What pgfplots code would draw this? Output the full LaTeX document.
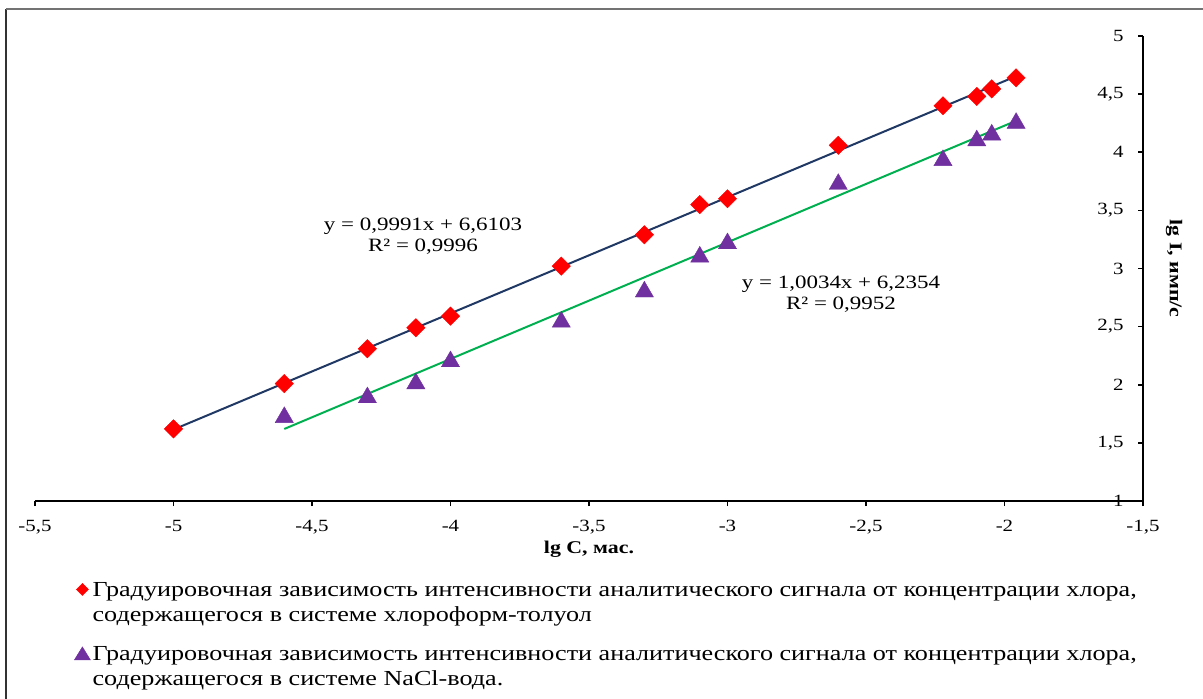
\documentclass[border=0pt]{standalone}
\usepackage{fontspec}
\setmainfont{Liberation Serif}[FakeStretch=1.22]
\usepackage{pgfplots}
\pgfplotsset{compat=1.18}
\definecolor{navyl}{RGB}{31,56,100}
\definecolor{greenl}{RGB}{0,176,80}
\definecolor{redm}{RGB}{255,0,0}
\definecolor{purplem}{RGB}{112,48,160}

\begin{document}
\begin{tikzpicture}
\useasboundingbox (0,0) rectangle (1203bp,-699bp);
\draw[line width=1.5bp, black!80] (6bp,-9bp) -- (6bp,-699bp);
\draw[line width=1.5bp, black!55] (6bp,-9bp) -- (1203bp,-9bp);
\begin{axis}[
  at={(35bp,-501bp)}, anchor=south west,
  scale only axis, width=1108bp, height=465bp,
  xmin=-5.5, xmax=-1.5, ymin=1, ymax=5,
  axis x line=bottom, axis y line=right,
  axis line style={-, line width=1.6bp, black},
  y axis line style={line width=2.2bp},
  xtick={-5.5,-5,-4.5,-4,-3.5,-3,-2.5,-2,-1.5},
  ytick={1,1.5,2,2.5,3,3.5,4,4.5,5},
  xtick align=outside, ytick align=inside,
  major tick length=5bp,
  every tick/.style={black, line width=1.6bp},
  /pgf/number format/.cd, use comma, assume math mode=true, /pgfplots/.cd,
  ticklabel style={font=\fontsize{17.2}{20}\selectfont, text=black},
  xticklabel style={yshift=-11bp},
  yticklabel style={anchor=east, xshift=-16bp},
  xlabel={\bfseries lg C, мас.},
  xlabel style={font=\fontsize{18}{20}\selectfont, at={(axis description cs:0.5,0)}, anchor=center, yshift=-48bp},
  ylabel={\bfseries lg I, имп/с},
  ylabel style={font=\fontsize{18}{20}\selectfont, at={(axis description cs:1.028,0.5)}, anchor=center, rotate=180},
  clip=false,
  legend style={draw=none, fill=none, at={(axis description cs:0.0352,-0.17)}, anchor=north west,
    font=\fontsize{21.5}{25}\selectfont, nodes={align=left}, row sep=20bp, inner sep=0pt},
  legend cell align=left,
]
\addplot[only marks, mark=square*, mark size=6.5bp, mark options={rotate=45, fill=redm, draw=redm}, color=redm,
  legend image code/.code={\draw[redm, fill=redm, rotate around={45:(0.25cm,13bp)}] (0.25cm,13bp) ++(-4.3bp,-4.3bp) rectangle ++(8.6bp,8.6bp);}]
 coordinates {(-5,1.62) (-4.6,2.01) (-4.3,2.31) (-4.125,2.49) (-4,2.59) (-3.6,3.02) (-3.3,3.29) (-3.1,3.55) (-3,3.6) (-2.6,4.06) (-2.222,4.40) (-2.1,4.48) (-2.046,4.545) (-1.958,4.64)};
\addlegendentry{Градуировочная зависимость интенсивности аналитического сигнала от концентрации хлора,\\содержащегося в системе хлороформ-толуол}
\addplot[only marks, mark=triangle*, mark size=10.5bp, mark options={fill=purplem, draw=purplem}, color=purplem,
  legend image code/.code={\fill[purplem] (0.25cm-8bp,7bp) -- (0.25cm+8bp,7bp) -- (0.25cm,20bp) -- cycle;}]
 coordinates {(-4.6,1.72) (-4.3,1.89) (-4.125,2.01) (-4,2.20) (-3.6,2.54) (-3.3,2.80) (-3.1,3.10) (-3,3.215) (-2.6,3.725) (-2.222,3.93) (-2.1,4.10) (-2.046,4.15) (-1.958,4.25)};
\addlegendentry{Градуировочная зависимость интенсивности аналитического сигнала от концентрации хлора,\\содержащегося в системе NaCl-вода.}
\addplot[navyl, line width=2bp, no marks, forget plot] coordinates {(-5,1.6148) (-1.958,4.6541)};
\addplot[greenl, line width=2bp, no marks, forget plot] coordinates {(-4.6,1.6198) (-1.958,4.2707)};
\end{axis}
\node[font=\fontsize{18.9}{21}\selectfont, align=center] at (423bp,-236.5bp) {y = 0,9991x + 6,6103\\R² = 0,9996};
\node[font=\fontsize{18.9}{21}\selectfont, align=center] at (841bp,-294.5bp) {y = 1,0034x + 6,2354\\R² = 0,9952};
\end{tikzpicture}
\end{document}
